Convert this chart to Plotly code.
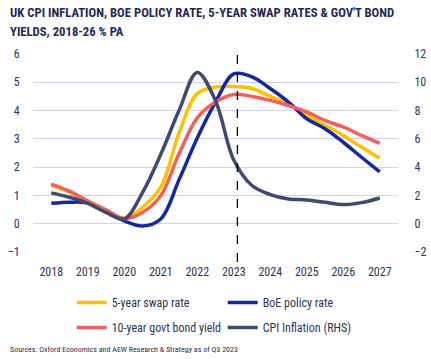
import plotly.graph_objects as go

years = [2018, 2018.5, 2019, 2019.5, 2020, 2020.5, 2021, 2021.5, 2022, 2022.5,
         2023, 2023.5, 2024, 2024.5, 2025, 2025.5, 2026, 2026.5, 2027]
swap_5y = [1.36, 1.12, 0.80, 0.47, 0.18, 0.58, 1.29, 3.20, 4.60, 4.83,
           4.85, 4.78, 4.50, 4.24, 3.83, 3.48, 3.12, 2.71, 2.31]
boe_rate = [0.72, 0.76, 0.73, 0.44, 0.10, -0.08, 0.17, 1.55, 3.03, 4.30,
            5.30, 5.19, 4.78, 4.30, 3.71, 3.36, 2.88, 2.35, 1.83]
gilt_10y = [1.40, 1.15, 0.80, 0.49, 0.18, 0.40, 0.99, 2.47, 3.74, 4.30,
            4.57, 4.50, 4.36, 4.18, 3.95, 3.65, 3.42, 3.12, 2.84]
cpi_rhs = [2.18, 1.87, 1.44, 0.80, 0.34, 2.2, 4.9, 8.0, 10.7, 8.7,
           4.5, 2.7, 2.06, 1.75, 1.68, 1.51, 1.35, 1.49, 1.82]
tick_years = [2018, 2019, 2020, 2021, 2022, 2023, 2024, 2025, 2026, 2027]
left_ticks = [-1, 0, 1, 2, 3, 4, 5, 6]
right_ticks = [-2, 0, 2, 4, 6, 8, 10, 12]
marker_year = 2023.1

NARROW = "Liberation Sans Narrow, Roboto Condensed, DejaVu Sans Condensed, Arial Narrow, sans-serif"
NAVY = "#1f2a55"
TXT = "#2c3556"

fig = go.Figure()
series = [
    ("5-year swap rate", swap_5y, "#FFC000", "y", "legend"),
    ("BoE policy rate", boe_rate, "#1428A0", "y", "legend"),
    ("10-year govt bond yield", gilt_10y, "#F2605E", "y", "legend2"),
    ("CPI Inflation (RHS)", cpi_rhs, "#3E4A6E", "y2", "legend2"),
]
for name, vals, col, ax, lg in series:
    fig.add_trace(go.Scatter(
        x=years, y=vals, name=name, mode="lines", yaxis=ax, legend=lg,
        line=dict(color=col, width=3.5, shape="spline", smoothing=1.0),
    ))

fig.add_shape(type="line", xref="x", yref="paper", x0=marker_year, x1=marker_year,
              y0=-0.05, y1=1.04, line=dict(color="black", width=1.3, dash="dash"))

legend_common = dict(
    orientation="h", xanchor="left", yanchor="top",
    entrywidth=106, entrywidthmode="pixels", traceorder="normal",
    font=dict(size=12, color=TXT, family=NARROW), itemwidth=30,
    bgcolor="rgba(0,0,0,0)",
)

fig.update_layout(
    width=431, height=359,
    margin=dict(l=33, r=33, t=54, b=107, autoexpand=False),
    paper_bgcolor="white", plot_bgcolor="white",
    font=dict(family=NARROW, color=TXT, size=12),
    xaxis=dict(
        range=[2017.5, 2027.5], tickvals=tick_years, ticktext=[str(t) for t in tick_years],
        showgrid=False, zeroline=False, showline=False,
        ticks="outside", ticklen=9, tickcolor="rgba(0,0,0,0)",
        tickfont=dict(size=12, color=TXT),
    ),
    yaxis=dict(
        range=[-1, 6], tickvals=left_ticks, showgrid=True, gridcolor="#cfd4f2", gridwidth=1,
        zeroline=False, showline=False,
        ticks="outside", ticklen=10, tickcolor="rgba(0,0,0,0)",
        tickfont=dict(size=12, color=TXT),
    ),
    yaxis2=dict(
        range=[-2, 12], tickvals=right_ticks, overlaying="y", side="right",
        showgrid=False, zeroline=False, showline=False,
        ticks="outside", ticklen=13, tickcolor="rgba(0,0,0,0)",
        tickfont=dict(size=12, color=TXT),
    ),
    legend=dict(x=0.106, y=-0.182, **legend_common),
    legend2=dict(x=0.106, y=-0.308, **legend_common),
    showlegend=True,
)

title_font = dict(family=NARROW, size=12.7, color=NAVY, weight="bold")
fig.add_annotation(
    text="UK CPI INFLATION, BOE POLICY RATE, 5-YEAR SWAP RATES & GOV'T BOND",
    xref="paper", yref="paper", x=-0.068, y=1.212, xanchor="left", yanchor="middle",
    showarrow=False, font=title_font,
)
fig.add_annotation(
    text="YIELDS, 2018-26 % PA",
    xref="paper", yref="paper", x=-0.068, y=1.116, xanchor="left", yanchor="middle",
    showarrow=False, font=title_font,
)
fig.add_annotation(
    text="Sources: Oxford Economics and AEW Research & Strategy as of Q3 2023",
    xref="paper", yref="paper", x=-0.068, y=-0.49, xanchor="left", yanchor="middle",
    showarrow=False, font=dict(size=8, color=NAVY, family=NARROW),
)

fig.write_html("out.html", config={"displayModeBar": False},
               post_script="document.body.style.margin='0';")
